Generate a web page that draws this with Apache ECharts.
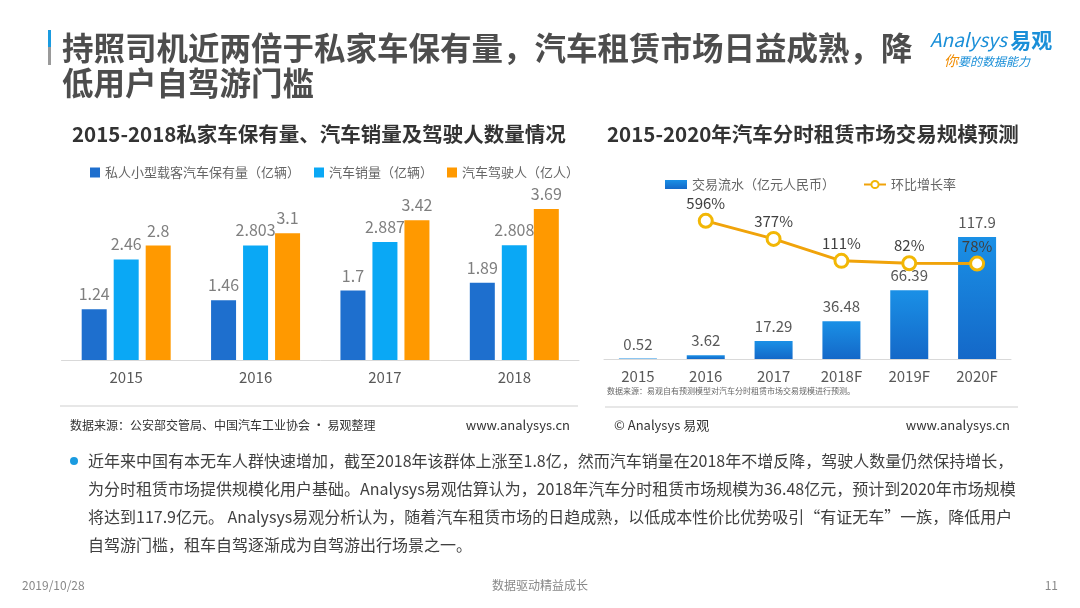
<!DOCTYPE html>
<html><head><meta charset="utf-8">
<script src="https://cdn.jsdelivr.net/npm/echarts@6/dist/echarts.min.js"></script>
<style>html,body{margin:0;padding:0;background:#fff}#c{width:1080px;height:608px}</style>
</head><body><div id="c"></div>
<script>
// ---- data ----
var leftCategories = ['2015', '2016', '2017', '2018'];
var privateCars = [1.24, 1.46, 1.7, 1.89];
var carSales = [2.46, 2.803, 2.887, 2.808];
var drivers = [2.8, 3.1, 3.42, 3.69];
var leftSeriesNames = ['私人小型载客汽车保有量（亿辆）', '汽车销量（亿辆）', '汽车驾驶人（亿人）'];

var rightCategories = ['2015', '2016', '2017', '2018F', '2019F', '2020F'];
var turnover = [0.52, 3.62, 17.29, 36.48, 66.39, 117.9];
var growthRate = [null, 596, 377, 111, 82, 78];
var rightSeriesNames = ['交易流水（亿元人民币）', '环比增长率'];

var FONT = '"Noto Sans CJK SC", "Noto Sans", sans-serif';
var chart = echarts.init(document.getElementById('c'));

function txt(x, y, s, size, color, extra) {
  var st = { text: s, x: x, y: y, fill: color, font: (extra && extra.weight ? extra.weight + ' ' : '') + size + 'px ' + FONT,
    textAlign: (extra && extra.align) || 'left', textVerticalAlign: 'middle' };
  return { type: 'text', style: st, z: 10 };
}

var bodyLines = [
  '近年来中国有本无车人群快速增加，截至2018年该群体上涨至1.8亿，然而汽车销量在2018年不增反降，驾驶人数量仍然保持增长，',
  '为分时租赁市场提供规模化用户基础。Analysys易观估算认为，2018年汽车分时租赁市场规模为36.48亿元，预计到2020年市场规模',
  '将达到117.9亿元。 Analysys易观分析认为，随着汽车租赁市场的日趋成熟，以低成本性价比优势吸引“有证无车”一族，降低用户',
  '自驾游门槛，租车自驾逐渐成为自驾游出行场景之一。'
];

var graphics = [
  { type: 'rect', shape: { x: 48, y: 30, width: 3, height: 17 }, style: { fill: '#1a9be0' } },
  { type: 'rect', shape: { x: 48, y: 47, width: 3, height: 18 }, style: { fill: '#9a9a9a' } },
  txt(62, 48, '持照司机近两倍于私家车保有量，汽车租赁市场日益成熟，降', 31.5, '#4d4d4d', { weight: 'bold' }),
  txt(62, 83, '低用户自驾游门槛', 31.5, '#4d4d4d', { weight: 'bold' }),
  // logo
  { type: 'text', style: { x: 930, y: 40, textVerticalAlign: 'middle', text: '{a|Analysys} {b|易观}',
      rich: { a: { fontSize: 19, fontStyle: 'italic', fill: '#1a8fd8', fontFamily: FONT },
              b: { fontSize: 21, fontWeight: 'bold', fill: '#1a8fd8', fontFamily: FONT } } } },
  { type: 'text', style: { x: 944, y: 61, textVerticalAlign: 'middle', text: '{a|你}{b|要的数据能力}',
      rich: { a: { fontSize: 14, fontStyle: 'italic', fill: '#f08c00', fontFamily: FONT },
              b: { fontSize: 12, fontStyle: 'italic', fill: '#1a8fd8', fontFamily: FONT } } } },
  // chart titles
  txt(72, 134, '2015-2018私家车保有量、汽车销量及驾驶人数量情况', 20.5, '#333', { weight: 'bold' }),
  txt(607, 134, '2015-2020年汽车分时租赁市场交易规模预测', 20.5, '#333', { weight: 'bold' }),
  // right note
  txt(607, 391, '数据来源：易观自有预测模型对汽车分时租赁市场交易规模进行预测。', 8, '#666'),
  // separators
  { type: 'line', shape: { x1: 60, y1: 406, x2: 578, y2: 406 }, style: { stroke: '#cfcfcf', lineWidth: 1 } },
  { type: 'line', shape: { x1: 605, y1: 407, x2: 1018, y2: 407 }, style: { stroke: '#cfcfcf', lineWidth: 1 } },
  txt(70, 425, '数据来源：公安部交管局、中国汽车工业协会 · 易观整理', 12, '#333'),
  txt(570, 425, 'www.analysys.cn', 13, '#333', { align: 'right' }),
  txt(614, 425, '© Analysys 易观', 13, '#333'),
  txt(1010, 425, 'www.analysys.cn', 13, '#333', { align: 'right' }),
  // bullet
  { type: 'circle', shape: { cx: 74, cy: 461, r: 4 }, style: { fill: '#1a9be0' } },
  // footer
  txt(22, 585, '2019/10/28', 12, '#888'),
  txt(540, 585, '数据驱动精益成长', 12, '#888', { align: 'center' }),
  txt(1058, 585, '11', 12, '#888', { align: 'right' })
];
bodyLines.forEach(function (s, i) { graphics.push(txt(88, 461 + i * 28, s, 16, '#404040')); });

var leftColors = ['#1e6fce', '#0aa8f5', '#ff9900'];
var leftData = [privateCars, carSales, drivers];
var series = leftSeriesNames.map(function (n, i) {
  return {
    name: n, type: 'bar', xAxisIndex: 0, yAxisIndex: 0, data: leftData[i],
    barWidth: 25, barGap: '28%', itemStyle: { color: leftColors[i] },
    label: { show: true, position: 'top', distance: 7, fontSize: 16, color: '#7f7f7f', fontFamily: FONT }
  };
});
series.push({
  name: rightSeriesNames[0], type: 'bar', xAxisIndex: 1, yAxisIndex: 1, data: turnover, barWidth: 38,
  itemStyle: { color: new echarts.graphic.LinearGradient(0, 0, 0, 1, [{ offset: 0, color: '#1a90e6' }, { offset: 1, color: '#1468c8' }]) },
  label: { show: true, position: 'top', distance: 7, fontSize: 15, color: '#595959', fontFamily: FONT }
});
series.push({
  name: rightSeriesNames[1], type: 'line', xAxisIndex: 2, yAxisIndex: 2, data: growthRate, z: 5,
  symbol: 'circle', symbolSize: 13, connectNulls: false,
  lineStyle: { color: '#f0a30a', width: 3 },
  itemStyle: { color: '#fff', borderColor: '#f2b705', borderWidth: 3 },
  label: { show: true, position: 'top', distance: 2, fontSize: 15, color: '#404040', fontFamily: FONT,
           formatter: function (p) { return p.value + '%'; } }
});

var catAxis = function (gi, data, show) {
  return { type: 'category', gridIndex: gi, data: data, show: show,
    axisLine: { lineStyle: { color: '#d9d9d9' } }, axisTick: { show: false },
    axisLabel: { fontSize: 15, color: '#595959', margin: 10, fontFamily: FONT } };
};
var valAxis = function (gi, min, max) {
  return { type: 'value', gridIndex: gi, min: min, max: max, show: false, splitLine: { show: false } };
};

chart.setOption({
  animation: false,
  textStyle: { fontFamily: FONT },
  graphic: graphics,
  legend: [
    { data: leftSeriesNames, left: 85, top: 161, itemWidth: 10, itemHeight: 10, itemGap: 14, icon: 'rect',
      textStyle: { fontSize: 13, color: '#666', fontFamily: FONT } },
    { data: [{ name: rightSeriesNames[0], icon: 'rect' }, { name: rightSeriesNames[1] }], left: 660, top: 173,
      itemWidth: 22, itemHeight: 9, itemGap: 28, textStyle: { fontSize: 13, color: '#666', fontFamily: FONT } }
  ],
  grid: [
    { left: 61.5, right: 501, top: 176, bottom: 248 },
    { left: 604, right: 69, top: 214, bottom: 249 },
    { left: 604, right: 69, top: 212.25, bottom: 338 }
  ],
  xAxis: [catAxis(0, leftCategories, true), catAxis(1, rightCategories, true), catAxis(2, rightCategories, false)],
  yAxis: [valAxis(0, 0, 4.5), valAxis(1, 0, 140), valAxis(2, 0, 700)],
  series: series
});
</script></body></html>
